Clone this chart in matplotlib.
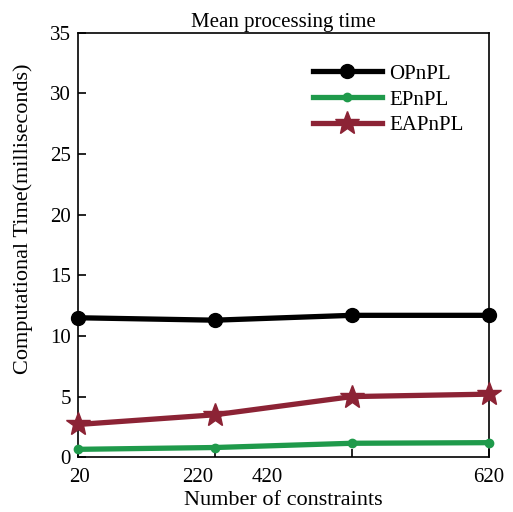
import matplotlib.pyplot as plt
import matplotlib.transforms as mtransforms

# dati
constraints = ['20', '220', '420', '620']
opnpl = [11.5, 11.3, 11.7, 11.7]
epnpl = [0.65, 0.8, 1.15, 1.2]
eapnpl = [2.7, 3.5, 5.0, 5.2]

plt.rcParams['font.family'] = 'Liberation Serif'

fig = plt.figure(figsize=(5.13, 5.12), dpi=100)
ax = fig.add_axes([0.152, 0.107, 0.801, 0.829])

x = list(range(len(constraints)))
ax.plot(x, opnpl, color='black', lw=3.8, marker='o', ms=10, label='OPnPL', clip_on=False, zorder=3)
ax.plot(x, epnpl, color='#1f9a4b', lw=3.8, marker='o', ms=6, label='EPnPL', clip_on=False, zorder=3)
ax.plot(x, eapnpl, color='#8c2335', lw=3.8, marker='*', ms=18, label='EAPnPL', clip_on=False, zorder=3)

ax.set_xlim(0, 3)
ax.set_ylim(0, 35)
ax.set_yticks(range(0, 36, 5))
ax.set_xticks(x)
ax.set_xticklabels([''] * len(x))

# etichette dell'asse x spostate come nell'originale (offset in pixel)
shifts = [2, -17, -85, 0]
for xi, lab, dx in zip(x, constraints, shifts):
    tr = ax.get_xaxis_transform() + mtransforms.ScaledTranslation(dx / 100, -0.105, fig.dpi_scale_trans)
    ax.text(xi, 0, lab, transform=tr, ha='center', va='top', fontsize=15)

ax.tick_params(direction='in', length=6, width=1.2, labelsize=15, top=False, right=False)
ax.tick_params(axis='y', pad=5)
for s in ax.spines.values():
    s.set_linewidth(1.2)

ax.set_xlabel('Number of constraints', fontsize=16, labelpad=21)
ax.set_ylabel('Computational Time(milliseconds)', fontsize=16)
ax.yaxis.set_label_coords(-0.11, 0.561)
ax.set_title('Mean processing time', fontsize=15, pad=4)

ax.legend(loc='upper left', frameon=False, fontsize=15, handlelength=3.3,
          handletextpad=0.35, labelspacing=0.3, borderpad=0, borderaxespad=0,
          bbox_to_anchor=(0.572, 0.926))

plt.savefig('out.png')
